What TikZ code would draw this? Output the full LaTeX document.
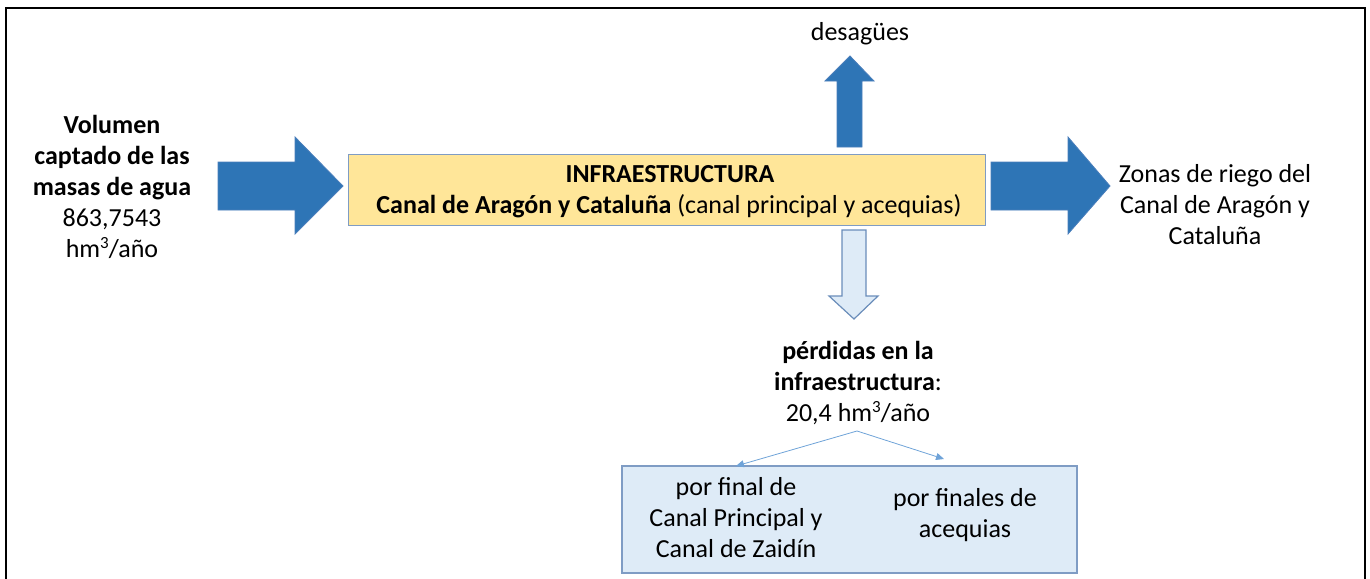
\documentclass[tikz,border=0pt]{standalone}
\usepackage{fontspec}
\setmainfont{Carlito}
\usetikzlibrary{arrows.meta}
\definecolor{darkarrow}{HTML}{2E75B6}
\definecolor{darkedge}{HTML}{4A7EBB}
\definecolor{boxyellow}{HTML}{FFE699}
\definecolor{boxedge}{HTML}{7F9CC4}
\definecolor{lightfill}{HTML}{DEEBF7}
\definecolor{lightedge}{HTML}{6A8DBA}
\definecolor{thinarrow}{HTML}{6FA3D8}
\newcommand{\cubo}{\raisebox{0.33em}{\fontsize{17}{17}\selectfont 3}}
\tikzset{
  txt/.style={align=center, inner sep=0pt, font=\fontsize{26}{31}\selectfont},
  bigarrow/.style={fill=darkarrow, draw=darkedge, line width=0.8pt, line join=miter},
  lightarrow/.style={fill=lightfill, draw=lightedge, line width=1.2pt, line join=miter},
  mainbox/.style={fill=boxyellow, draw=boxedge, line width=1pt},
  subbox/.style={fill=lightfill, draw=boxedge, line width=1.2pt},
  thin/.style={draw=thinarrow, line width=0.8pt, -{Triangle[length=8pt,width=7pt]}},
}
\begin{document}
\begin{tikzpicture}[x=1pt,y=-1pt]
\useasboundingbox (0,0) rectangle (1370,578);
% frame
\draw[line width=2.2pt, black] (6,600) -- (6,8) -- (1365,8) -- (1365,600);

% left text
\node[txt] (src) at (112,187) {\textbf{Volumen}\\\textbf{captado de las}\\\textbf{masas de agua}\\863,7543\\hm\cubo/año};

% left arrow
\draw[bigarrow] (218,162) -- (295,162) -- (295,137) -- (343,186) -- (295,234) -- (295,210) -- (218,210) -- cycle;

% main box
\draw[mainbox] (348,154) rectangle (985,225);
\node[txt] (t1) at (670,174) {\textbf{INFRAESTRUCTURA}};
\node[txt] (t2) at (669,206) {\textbf{Canal de Aragón y Cataluña} (canal principal y acequias)};

% right arrow
\draw[bigarrow] (991,162) -- (1068,162) -- (1068,137) -- (1110,186) -- (1068,234) -- (1068,210) -- (991,210) -- cycle;

% right text
\node[txt] (zonas) at (1215,205) {Zonas de riego del\\Canal de Aragón y\\Cataluña};

% up arrow
\draw[bigarrow] (837,147) -- (837,81) -- (825,81) -- (850,56) -- (874,81) -- (862,81) -- (862,147) -- cycle;
\node[txt] (desag) at (860,34) {desagües};

% down arrow
\draw[lightarrow] (842,230) -- (866,230) -- (866,296) -- (878,296) -- (854,319) -- (829,296) -- (842,296) -- cycle;

% losses text
\node[txt] (perd) at (858,383) {\textbf{pérdidas en la}\\\textbf{infraestructura}:\\20,4 hm\cubo/año};

% bottom box
\draw[subbox] (622,466) rectangle (1077,573);
\node[txt] (bl) at (736,518) {por final de\\Canal Principal y\\Canal de Zaidín};
\node[txt] (br) at (965,515) {por finales de\\acequias};

% thin arrows
\coordinate (split) at (857,431);
\coordinate (endl) at (736,466);
\coordinate (endr) at (944,459);
\draw[thin] (split) -- (endl);
\draw[thin] (split) -- (endr);
\end{tikzpicture}
\end{document}
